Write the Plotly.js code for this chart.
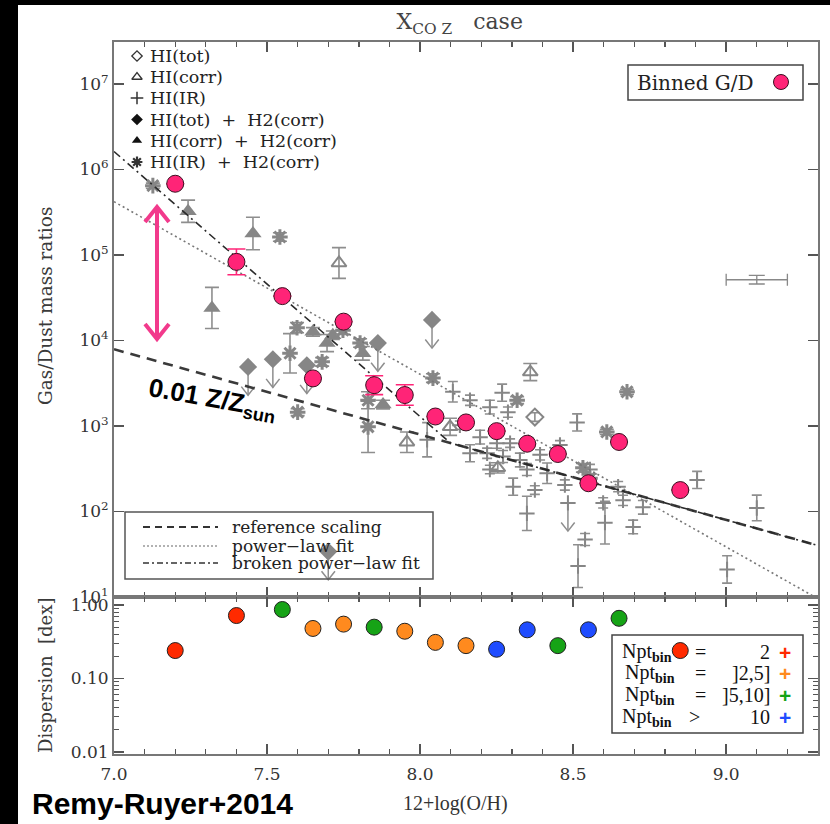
<!DOCTYPE html>
<html><head><meta charset="utf-8">
<script src="https://cdn.plot.ly/plotly-3.0.1.min.js"></script>
<style>
html,body{margin:0;padding:0;background:#000;width:830px;height:824px;overflow:hidden}
#plot{position:absolute;left:18px;top:5px;width:812px;height:819px;background:#fff}
</style></head><body><div id="plot"></div>
<script>
// ---- binned gas-to-dust ratios (12+log(O/H) bins) ----
const binOH   = [7.2, 7.4, 7.55, 7.65, 7.75, 7.85, 7.95, 8.05, 8.15, 8.25, 8.35, 8.45, 8.55, 8.65, 8.85];
const binGD   = [6.8e5, 8.3e4, 3.3e4, 3.6e3, 1.66e4, 3.0e3, 2.3e3, 1290, 1100, 870, 620, 470, 214, 650, 178];
const binErr  = [0, 0.15, 0, 0, 0, 0.11, 0.12, 0, 0, 0, 0, 0, 0, 0, 0];          // dex
const binDisp = [0.24, 0.72, 0.87, 0.48, 0.55, 0.50, 0.44, 0.31, 0.28, 0.25, 0.46, 0.28, 0.46, 0.66, 0.24];
const binNpt  = ['2', '2', '5-10', '2-5', '2-5', '5-10', '2-5', '2-5', '2-5', '>10', '>10', '5-10', '>10', '5-10', '2'];

// ---- individual galaxies, by gas estimate ----
const hiTotOH = [8.375];
const hiTotGD = [1270];
const hiTotErr = [0.05];

const hiCorrOH = [7.735, 8.36, 7.957, 8.254, 8.098];
const hiCorrGD = [80500, 4270, 646, 324, 977];
const hiCorrErr = [0.18, 0.10, 0.12, 0.06, 0.10];

const hiIrOH = [8.107, 8.163, 8.268, 8.228, 8.287, 8.513, 8.196, 8.251, 8.294, 8.271, 8.219, 8.326, 8.163, 8.349, 8.415, 8.304, 8.349, 8.539,
                8.516, 8.604, 8.696, 8.728, 8.663, 8.598, 9.10, 9.003, 8.905, 8.023, 8.647, 8.392, 8.13, 8.457, 8.555, 8.375, 8.473, 8.228];
const hiIrGD = [2510, 2000, 2450, 1660, 1450, 1100, 740, 630, 630, 440, 480, 400, 480, 310, 280, 195, 95, 47,
                23, 74, 66, 112, 135, 126, 110, 21, 234, 690, 195, 460, 1020, 600, 310, 178, 204, 310];
const hiIrErr = [0.12, 0.06, 0.10, 0.08, 0.06, 0.10, 0.08, 0.06, 0.05, 0.07, 0.06, 0.08, 0.10, 0.07, 0.12, 0.10, 0.20, 0.07,
                 0.25, 0.25, 0.08, 0.08, 0.06, 0.06, 0.15, 0.16, 0.10, 0.20, 0.06, 0.06, 0.05, 0.05, 0.06, 0.05, 0.06, 0.05];
const hiIrLimOH = [8.483];
const hiIrLimGD = [126];

const hiTotH2OH = [7.438, 7.519, 7.63, 7.862, 8.039, 7.70];       // upper limits
const hiTotH2GD = [4900, 6030, 5130, 9330, 17400, 34];

const hiCorrH2OH = [7.242, 7.454, 7.32, 7.65, 7.715, 7.696, 7.813, 7.879];
const hiCorrH2GD = [3.24e5, 1.78e5, 2.4e4, 1.26e4, 1.15e4, 9330, 7080, 1780];
const hiCorrH2Err = [0.13, 0.19, 0.24, 0.05, 0.05, 0.10, 0.08, 0.05];

const hiIrH2OH = [7.127, 7.542, 7.598, 7.575, 7.68, 7.804, 7.60, 7.83, 7.83, 8.042, 8.676, 8.61, 8.317, 8.532, 8.555, 7.748];
const hiIrH2GD = [6.46e5, 1.62e5, 1.41e4, 7080, 5620, 9330, 1450, 2000, 977, 3630, 2510, 851, 2000, 324, 245, 1.32e4];
const hiIrH2Err = [0.03, 0.05, 0.06, 0.23, 0.05, 0.05, 0.04, 0.10, 0.30, 0.05, 0.03, 0.03, 0.04, 0.05, 0.05, 0.05];

// typical uncertainty
const typOH = [9.1], typGD = [51300], typErrOH = [0.1], typErrDex = [0.05];

// ---- scaling relations ----
const refOH = [7.0, 9.3],        refGD = [7900, 40];
const powOH = [7.0, 9.29],       powGD = [4.2e5, 10];
const brkOH = [7.0, 8.10, 9.3],  brkGD = [1.62e6, 630, 40];

// ---- axes ticks ----
const xTickVals = [7.0, 7.5, 8.0, 8.5, 9.0];
const xTickText = ['7.0', '7.5', '8.0', '8.5', '9.0'];
const gdTickVals = [1e1, 1e2, 1e3, 1e4, 1e5, 1e6, 1e7];
const gdTickText = ['10<sup>1</sup>', '10<sup>2</sup>', '10<sup>3</sup>', '10<sup>4</sup>', '10<sup>5</sup>', '10<sup>6</sup>', '10<sup>7</sup>'];
const dispTickVals = [0.01, 0.1, 1];
const dispTickText = ['0.01', '0.10', '1.00'];
const dispMinor = [0.02,0.03,0.04,0.05,0.06,0.07,0.08,0.09,0.2,0.3,0.4,0.5,0.6,0.7,0.8,0.9];

const nptColors = {'2': '#ff2a00', '2-5': '#ff8a1e', '5-10': '#16a316', '>10': '#1f4cff'};

const GRAY = '#868686', ERRGRAY = '#8e8e8e', PINK = '#ff2477';
const SERIF = 'DejaVu Serif, Liberation Serif, serif';
const LS = 'Liberation Serif, serif';

function errs(ys, dex, color, w) {
  return {type: 'data', symmetric: false,
    array: ys.map((y, i) => y * (Math.pow(10, dex[i]) - 1)),
    arrayminus: ys.map((y, i) => y * (1 - Math.pow(10, -dex[i]))),
    color: color || ERRGRAY, thickness: 1.6, width: w || 5};
}
// downward arrows for upper limits
function limitArrows(xs, ys) {
  const X = [], Y = [];
  xs.forEach((x, i) => {
    const tip = ys[i] / Math.pow(10, 0.33), arm = tip * Math.pow(10, 0.1);
    X.push(x, x, null, x - 0.022, x, x + 0.022, null);
    Y.push(ys[i], tip, null, arm, tip, arm, null);
  });
  return {x: X, y: Y};
}

const traces = [];
const main = {xaxis: 'x', yaxis: 'y', hoverinfo: 'skip', showlegend: false};

// upper-limit arrows
const limH2 = limitArrows(hiTotH2OH, hiTotH2GD);
const limIr = limitArrows(hiIrLimOH, hiIrLimGD);
traces.push(Object.assign({type: 'scatter', mode: 'lines', x: limH2.x.concat(limIr.x), y: limH2.y.concat(limIr.y),
  line: {color: ERRGRAY, width: 1.5}}, main));

traces.push(Object.assign({type: 'scatter', mode: 'markers', x: hiIrOH, y: hiIrGD, error_y: errs(hiIrGD, hiIrErr),
  marker: {symbol: 'cross-thin-open', size: 11, color: GRAY, line: {color: GRAY, width: 2}}}, main));
traces.push(Object.assign({type: 'scatter', mode: 'markers', x: hiIrLimOH, y: hiIrLimGD,
  marker: {symbol: 'cross-thin-open', size: 11, color: GRAY, line: {color: GRAY, width: 2}}}, main));
traces.push(Object.assign({type: 'scatter', mode: 'markers', x: hiTotOH, y: hiTotGD, error_y: errs(hiTotGD, hiTotErr),
  marker: {symbol: 'diamond-open', size: 13, color: GRAY, line: {color: GRAY, width: 2}}}, main));
traces.push(Object.assign({type: 'scatter', mode: 'markers', x: hiCorrOH, y: hiCorrGD, error_y: errs(hiCorrGD, hiCorrErr, ERRGRAY, 7),
  marker: {symbol: 'triangle-up-open', size: 13, color: GRAY, line: {color: GRAY, width: 2}}}, main));
traces.push(Object.assign({type: 'scatter', mode: 'markers', x: hiTotH2OH, y: hiTotH2GD,
  marker: {symbol: 'diamond', size: 14, color: GRAY}}, main));
traces.push(Object.assign({type: 'scatter', mode: 'markers', x: hiCorrH2OH, y: hiCorrH2GD, error_y: errs(hiCorrH2GD, hiCorrH2Err, ERRGRAY, 7),
  marker: {symbol: 'triangle-up', size: 15, color: GRAY}}, main));
traces.push(Object.assign({type: 'scatter', mode: 'markers', x: hiIrH2OH, y: hiIrH2GD, error_y: errs(hiIrH2GD, hiIrH2Err, ERRGRAY, 7),
  marker: {symbol: 'asterisk-open', size: 13, color: GRAY, line: {color: GRAY, width: 3}}}, main));
// typical uncertainty
traces.push(Object.assign({type: 'scatter', mode: 'markers', x: typOH, y: typGD,
  error_y: Object.assign(errs(typGD, typErrDex, '#888', 8), {thickness: 1.3}),
  error_x: {type: 'data', array: typErrOH, color: '#888', thickness: 1.3, width: 6},
  marker: {size: 2, color: 'rgba(0,0,0,0)'}}, main));

// scaling relations
traces.push(Object.assign({type: 'scatter', mode: 'lines', x: powOH, y: powGD, line: {color: '#777', width: 1.6, dash: '2px,3px'}}, main));
traces.push(Object.assign({type: 'scatter', mode: 'lines', x: refOH, y: refGD, line: {color: '#3a3a3a', width: 2.6, dash: '10px,7px'}}, main));
traces.push(Object.assign({type: 'scatter', mode: 'lines', x: brkOH, y: brkGD, line: {color: '#2a2a2a', width: 1.6, dash: '8px,4px,2px,4px'}}, main));

// binned values
traces.push(Object.assign({type: 'scatter', mode: 'markers', x: binOH, y: binGD,
  error_y: errs(binGD, binErr, PINK, 9),
  marker: {symbol: 'circle', size: 17, color: PINK, line: {color: '#3a1020', width: 1}}}, main));

// dispersion panel
traces.push({type: 'scatter', mode: 'markers', x: binOH, y: binDisp, xaxis: 'x2', yaxis: 'y2', hoverinfo: 'skip', showlegend: false,
  marker: {symbol: 'circle', size: 16, color: binNpt.map(c => nptColors[c]), line: {color: '#222', width: 1}}});

// ---- legend glyphs (drawn in a pixel-space overlay) ----
const ov = {xaxis: 'x3', yaxis: 'y3', hoverinfo: 'skip', showlegend: false, cliponaxis: false};
const legX = 137, legRows = [56, 77, 98, 119.5, 140.5, 162];
const legSyms = [
  {symbol: 'diamond-open', size: 8, color: '#333', line: {color: '#333', width: 1.3}},
  {symbol: 'triangle-up-open', size: 9, color: '#333', line: {color: '#333', width: 1.3}},
  {symbol: 'cross-thin-open', size: 9, color: '#333', line: {color: '#333', width: 1.5}},
  {symbol: 'diamond', size: 9, color: '#111'},
  {symbol: 'triangle-up', size: 9, color: '#111'},
  {symbol: 'asterisk-open', size: 9, color: '#333', line: {color: '#333', width: 2.2}}
];
legSyms.forEach((m, i) => traces.push(Object.assign({type: 'scatter', mode: 'markers', x: [legX], y: [legRows[i]], marker: m}, ov)));
// line-style samples
traces.push(Object.assign({type: 'scatter', mode: 'lines', x: [143, 218], y: [527, 527], line: {color: '#333', width: 2, dash: '7px,5px'}}, ov));
traces.push(Object.assign({type: 'scatter', mode: 'lines', x: [143, 218], y: [546, 546], line: {color: '#999', width: 1.3, dash: '2px,2px'}}, ov));
traces.push(Object.assign({type: 'scatter', mode: 'lines', x: [143, 218], y: [563, 563], line: {color: '#333', width: 1.6, dash: '6px,3px,2px,3px'}}, ov));
// binned legend marker
traces.push(Object.assign({type: 'scatter', mode: 'markers', x: [781], y: [82],
  marker: {symbol: 'circle', size: 15, color: PINK, line: {color: '#3a1020', width: 1}}}, ov));
// double arrow
traces.push(Object.assign({type: 'scatter', mode: 'lines',
  x: [145, 157, 169, null, 157, 157, null, 145, 157, 169],
  y: [222, 207, 222, null, 208, 339, null, 324, 339, 324],
  line: {color: '#f23a8c', width: 4}}, ov));

const ann = [];
function txt(x, y, text, opt) {
  ann.push(Object.assign({xref: 'x3', yref: 'y3', x: x, y: y, text: text, showarrow: false,
    font: {family: SERIF, size: 17, color: '#222'}, xanchor: 'left', yanchor: 'middle'}, opt || {}));
}
// text placed outside the plotting area (paper coordinates from page pixels)
function ptxt(x, y, text, opt) {
  ann.push(Object.assign({xref: 'paper', yref: 'paper', x: (x - 114) / 704, y: (754 - y) / 712, text: text, showarrow: false,
    font: {family: SERIF, size: 15, color: '#222'}, xanchor: 'center', yanchor: 'middle'}, opt || {}));
}
const legLabels = ['HI(tot)', 'HI(corr)', 'HI(IR)', 'HI(tot)&nbsp;&nbsp;+&nbsp;&nbsp;H2(corr)', 'HI(corr)&nbsp;&nbsp;+&nbsp;&nbsp;H2(corr)', 'HI(IR)&nbsp;&nbsp;+&nbsp;&nbsp;H2(corr)'];
legLabels.forEach((t, i) => txt(148, legRows[i], t, {font: {family: SERIF, size: 17.5, color: '#222'}}));
txt(635, 83, 'Binned&nbsp;G/D', {font: {family: SERIF, size: 20, color: '#222'}});
txt(230, 527, 'reference scaling');
txt(230, 546, 'power\u2212law fit');
txt(230, 563, 'broken power\u2212law fit');
// Npt legend
const nptRows = [652, 673, 695, 717];
const nptOp = ['=', '=', '=', '>'];
const nptVal = ['2', ']2,5]', ']5,10]', '10'];
const nptKeys = ['2', '2-5', '5-10', '>10'];
nptRows.forEach((y, i) => {
  txt(i === 0 || i === 3 ? 620 : 623, y, 'Npt<sub><b>bin</b></sub>', {font: {family: LS, size: 20, color: '#111'}});
  txt(i === 3 ? 694 : 700, y, nptOp[i], {font: {family: LS, size: 20, color: '#111'}, xanchor: 'center'});
  txt(772, y, nptVal[i], {font: {family: LS, size: 20, color: '#111'}, xanchor: 'right'});
  txt(785, y, '<b>+</b>', {font: {family: 'Liberation Sans, sans-serif', size: 21, color: nptColors[nptKeys[i]]}, xanchor: 'center'});
});
txt(212, 399, '<b>0.01 Z/Z<sub>sun</sub></b>', {xanchor: 'center', textangle: 10, font: {family: 'Liberation Sans, Arial, sans-serif', size: 26, color: '#000'}});
// axis titles and notes
ptxt(45, 306, 'Gas/Dust mass ratios', {textangle: -90, font: {family: SERIF, size: 18.5, color: '#3a3a3a'}});
ptxt(45, 676, 'Dispersion&nbsp;&nbsp;[dex]', {textangle: -90, font: {family: SERIF, size: 18, color: '#3a3a3a'}});
ptxt(455, 803, '12+log(O/H)', {font: {family: LS, size: 20, color: '#333'}});
ptxt(162, 803, '<b>Remy-Ruyer+2014</b>', {font: {family: 'Liberation Sans, Arial, sans-serif', size: 30, color: '#000'}});

const shapes = [
  {type: 'rect', xref: 'x3', yref: 'y3', x0: 628, x1: 803, y0: 65, y1: 100, line: {color: '#444', width: 1.5}},
  {type: 'rect', xref: 'x3', yref: 'y3', x0: 125, x1: 433, y0: 512, y1: 579, line: {color: '#555', width: 1.5}},
  {type: 'rect', xref: 'x3', yref: 'y3', x0: 612, x1: 803, y0: 635, y1: 733, line: {color: '#444', width: 1.5}}
];

const axCommon = {showline: true, linecolor: '#777', linewidth: 2, showgrid: false, zeroline: false,
  ticks: 'inside', ticklen: 10, tickwidth: 1.6, tickcolor: '#555', mirror: 'ticks',
  tickfont: {family: SERIF, size: 17, color: '#333'}};

const layout = {
  width: 812, height: 819,
  margin: {l: 96, r: 12, t: 37, b: 70},
  paper_bgcolor: '#fff', plot_bgcolor: 'rgba(255,255,255,0)',
  showlegend: false,
  title: {text: 'X<sub>CO Z</sub>&nbsp;&nbsp;&nbsp;case', x: 0.544, xanchor: 'center', y: 0.98, yanchor: 'middle',
    font: {family: SERIF, size: 22, color: '#444'}},
  xaxis: Object.assign({}, axCommon, {domain: [0, 1], anchor: 'y', range: [7, 9.3], tickvals: xTickVals, showticklabels: false,
    minor: {ticks: 'inside', ticklen: 5, tick0: 7, dtick: 0.1, tickcolor: '#555', tickwidth: 1.3}}),
  yaxis: Object.assign({}, axCommon, {domain: [0.2205, 1], anchor: 'x', type: 'log', range: [1, 7.49],
    tickvals: gdTickVals, ticktext: gdTickText}),
  xaxis2: Object.assign({}, axCommon, {domain: [0, 1], anchor: 'y2', matches: 'x', range: [7, 9.3],
    tickvals: xTickVals, ticktext: xTickText, ticklabelstandoff: 4,
    minor: {ticks: 'inside', ticklen: 5, tick0: 7, dtick: 0.1, tickcolor: '#555', tickwidth: 1.3}}),
  yaxis2: Object.assign({}, axCommon, {domain: [0, 0.2205], anchor: 'x2', type: 'log', range: [-2.03, 0.11],
    tickvals: dispTickVals, ticktext: dispTickText,
    minor: {ticks: 'inside', ticklen: 5, tickvals: dispMinor, tickcolor: '#555', tickwidth: 1.3}}),
  xaxis3: {domain: [0, 1], anchor: 'y3', range: [114, 818], visible: false, fixedrange: true},
  yaxis3: {domain: [0, 1], anchor: 'x3', range: [754, 42], visible: false, fixedrange: true},
  annotations: ann,
  shapes: shapes
};

Plotly.newPlot('plot', traces, layout, {staticPlot: true, displayModeBar: false});
</script></body></html>
